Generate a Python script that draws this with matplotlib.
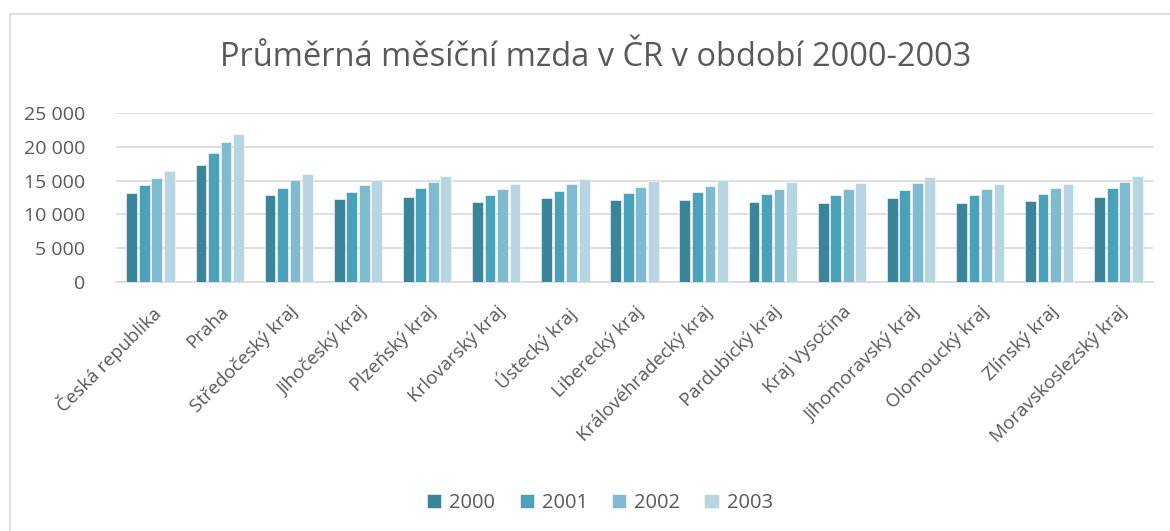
import matplotlib.pyplot as plt
import numpy as np
from matplotlib.patches import Rectangle
from matplotlib.ticker import FuncFormatter

plt.rcParams['font.family'] = ['Open Sans', 'DejaVu Sans']

# Regiony a průměrné mzdy (Kč)
regions = [
    'Česká republika', 'Praha', 'Středočeský kraj', 'Jihočeský kraj',
    'Plzeňský kraj', 'Krlovarský kraj', 'Ústecký kraj', 'Liberecký kraj',
    'Královéhradecký kraj', 'Pardubický kraj', 'Kraj Vysočina',
    'Jihomoravský kraj', 'Olomoucký kraj', 'Zlínský kraj',
    'Moravskoslezský kraj',
]
years = ['2000', '2001', '2002', '2003']

wage_2000 = [13170, 17370, 12820, 12280, 12570, 11830, 12380, 12130,
             12130, 11830, 11630, 12380, 11730, 11930, 12620]
wage_2001 = [14310, 19100, 13960, 13320, 13860, 12820, 13460, 13170,
             13360, 12970, 12820, 13560, 12820, 12970, 13860]
wage_2002 = [15440, 20790, 15140, 14360, 14800, 13800, 14500, 14060,
             14210, 13800, 13760, 14600, 13800, 13910, 14850]
wage_2003 = [16390, 21970, 16030, 15100, 15690, 14500, 15250, 14950,
             15050, 14850, 14650, 15500, 14550, 14550, 15690]

series = [wage_2000, wage_2001, wage_2002, wage_2003]
colors = ['#3A8599', '#4AA2BA', '#7FBBD0', '#B7D6E1']
text_color = '#595959'
grid_color = '#D9D9D9'

fig = plt.figure(figsize=(11.7, 5.31), dpi=100)
ax = fig.add_axes([116 / 1170, 1 - 281.7 / 531, 1037 / 1170, 168.4 / 531])

# Rámeček kolem grafu (jako v Excelu)
fig.patches.append(Rectangle((10 / 1170, -0.01), 1.0, 1 - 14 / 531 + 0.01,
                             transform=fig.transFigure, fill=False,
                             edgecolor=grid_color, linewidth=1.2))

x = np.arange(len(regions))
step = 0.181
for i, (values, color) in enumerate(zip(series, colors)):
    ax.bar(x + (i - 1.5) * step, values, width=step * 0.86, color=color,
           edgecolor='white', linewidth=0.4, label=years[i], zorder=3)

ax.set_xlim(-0.5, len(regions) - 0.5)
ax.set_ylim(0, 25000)
ax.set_yticks(range(0, 25001, 5000))
ax.yaxis.set_major_formatter(FuncFormatter(lambda v, p: f'{int(v):,}'.replace(',', ' ')))
ax.grid(axis='y', color=grid_color, linewidth=1.2, zorder=0)

for side in ['left', 'right', 'top']:
    ax.spines[side].set_visible(False)
ax.spines['bottom'].set_color(grid_color)
ax.spines['bottom'].set_linewidth(1.2)

ax.tick_params(axis='y', length=0, pad=22, labelsize=14, labelcolor=text_color)
ax.tick_params(axis='x', length=0, pad=15, labelsize=13.5, labelcolor=text_color)
ax.set_xticks(x)
ax.set_xticklabels(regions, rotation=45, ha='right', va='top',
                   rotation_mode='anchor')

fig.text(596 / 1170, 1 - 58 / 531, 'Průměrná měsíční mzda v ČR v období 2000-2003',
         ha='center', va='center', fontsize=23.5, color=text_color)

fig.legend(loc='center', bbox_to_anchor=(600 / 1170, 1 - 503 / 531), ncol=4,
           frameon=False, fontsize=14.5, labelcolor=text_color,
           handlelength=0.7, handleheight=0.7, handletextpad=0.4,
           columnspacing=1.2)

fig.savefig('out.png', dpi=100)
